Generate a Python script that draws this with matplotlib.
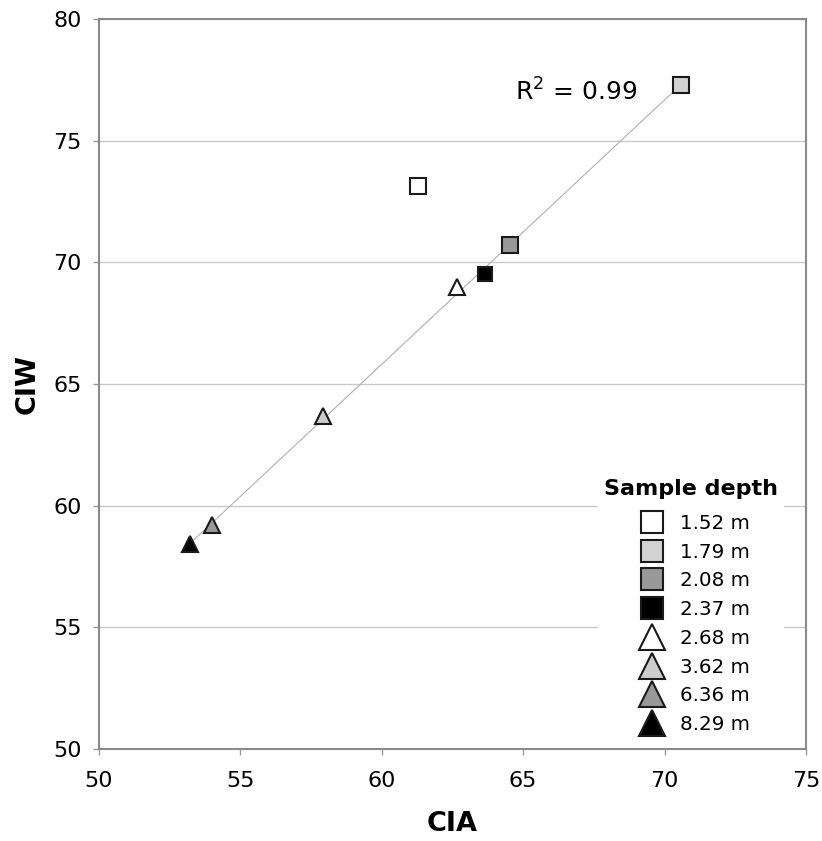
import numpy as np
import matplotlib
matplotlib.use("Agg")
import matplotlib.pyplot as plt

labels = ["1.52 m", "1.79 m", "2.08 m", "2.37 m", "2.68 m", "3.62 m", "6.36 m", "8.29 m"]
cia = [61.28, 70.58, 64.53, 63.65, 62.66, 57.92, 54.00, 53.22]
ciw = [73.14, 77.29, 70.71, 69.52, 68.99, 63.68, 59.20, 58.42]
markers = ["s", "s", "s", "s", "^", "^", "^", "^"]
fills = ["white", "#d3d3d3", "#999999", "#000000", "white", "#cccccc", "#999999", "#000000"]
sizes = [12, 11, 11, 10.5, 11.5, 11.5, 11.5, 12]
fit_idx = [1, 2, 3, 4, 5, 6, 7]
r2_text = "R$^2$ = 0.99"

plt.rcParams['font.family'] = ['DejaVu Sans']
plt.rcParams['mathtext.fontset'] = 'dejavusans'
fig = plt.figure(figsize=(8.22, 8.41), dpi=100)
ax = fig.add_axes([0.1204, 0.1094, 0.8601, 0.868])

# regression line
fx = np.array([cia[i] for i in fit_idx])
fy = np.array([ciw[i] for i in fit_idx])
m, b = np.polyfit(fx, fy, 1)
xs = np.array([fx.min(), fx.max()])
ax.plot(xs, m * xs + b, color="#b0b0b0", lw=0.8, zorder=2)

for x, y, mk, fc, s, lab in zip(cia, ciw, markers, fills, sizes, labels):
    ax.plot([x], [y], marker=mk, ms=s, mfc=fc, mec="#1a1a1a", mew=1.5,
            ls="none", label=lab, zorder=3)

ax.set_xlim(50, 75)
ax.set_ylim(50, 80)
ax.set_xticks(range(50, 76, 5))
ax.set_yticks(range(50, 81, 5))
ax.yaxis.grid(True, color="#c8c8c8", lw=1.0)
ax.set_axisbelow(True)
for sp in ax.spines.values():
    sp.set_color("#8a8a8a")
    sp.set_linewidth(1.5)
ax.tick_params(axis="both", direction="out", length=4.5, width=1, color="#9a9a9a",
               labelsize=16)
ax.tick_params(axis="x", pad=11)
ax.tick_params(axis="y", pad=8)
ax.set_xlabel("CIA", fontsize=19.5, fontweight="bold", labelpad=15)
ax.set_ylabel("CIW", fontsize=19.5, fontweight="bold", labelpad=9)

ax.text(64.7, 77.0, r2_text, fontsize=18, va="center", ha="left")

leg = ax.legend(loc="lower left", bbox_to_anchor=(0.706, 0.0123), borderaxespad=0,
                frameon=True, fancybox=False, edgecolor="none", facecolor="white",
                framealpha=1, fontsize=14.3, title="Sample depth",
                title_fontproperties={"weight": "bold", "size": 16},
                handletextpad=0.4, labelspacing=0.49, borderpad=0.3,
                handlelength=2.0)
leg._legend_box.align = "center"
leg._legend_box.sep = 10.6
for h, mk in zip(leg.legend_handles, markers):
    h.set_markersize(15.5 if mk == "s" else 18.5)

fig.savefig("out.png", dpi=100)
